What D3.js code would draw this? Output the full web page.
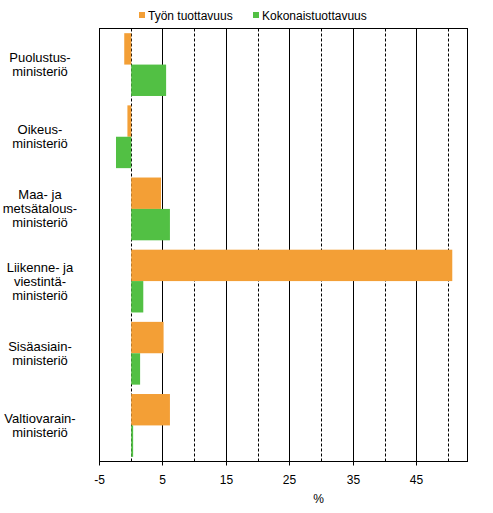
<!DOCTYPE html>
<html>
<head>
<meta charset="utf-8">
<script src="https://cdn.jsdelivr.net/npm/d3@7"></script>
<style>
  body { margin: 0; background: #fff; }
  text { font-family: "Liberation Sans", Arial, sans-serif; font-size: 12px; fill: #000; }
</style>
</head>
<body>
<div id="chart"></div>
<script>
// Ministries (label lines) and values in %
const categories = [
    ['Puolustus-', 'ministeriö'],
    ['Oikeus-', 'ministeriö'],
    ['Maa- ja', 'metsätalous-', 'ministeriö'],
    ['Liikenne- ja', 'viestintä-', 'ministeriö'],
    ['Sisäasiain-', 'ministeriö'],
    ['Valtiovarain-', 'ministeriö']
];
const seriesNames = ['Työn tuottavuus', 'Kokonaistuottavuus'];
const tyonTuottavuus = [-1.1, -0.6, 4.7, 50.6, 5.1, 6.1];
const kokonaistuottavuus = [5.5, -2.4, 6.1, 1.9, 1.4, 0.3];
const majorTicks = [-5, 5, 15, 25, 35, 45];
const minorTicks = [0, 10, 20, 30, 40, 50];
const colors = ['#f39f36', '#52c044'];

const width = 493, height = 513;
const margin = { top: 28.5, right: 26, bottom: 51.5, left: 99 };
const innerW = width - margin.left - margin.right;
const innerH = height - margin.top - margin.bottom;

const svg = d3.select('#chart').append('svg')
    .attr('width', width)
    .attr('height', height);

const g = svg.append('g')
    .attr('transform', `translate(${margin.left},${margin.top})`);

const x = d3.scaleLinear().domain([-5, 53]).range([0, innerW]);
const px = d => Math.round(x(d)) + 0.5; // crisp 1px lines
const y = d3.scaleBand()
    .domain(d3.range(categories.length))
    .range([0, innerH])
    .paddingInner(0.13)
    .paddingOuter(0.065);
const ySub = d3.scaleBand().domain([0, 1]).range([0, y.bandwidth()]);

// gridlines: solid at the major ticks, dashed in between
g.selectAll('.grid-major')
    .data(majorTicks)
    .join('line')
    .attr('x1', px)
    .attr('x2', px)
    .attr('y1', 0)
    .attr('y2', innerH)
    .attr('stroke', '#000');

g.selectAll('.grid-minor')
    .data(minorTicks)
    .join('line')
    .attr('x1', px)
    .attr('x2', px)
    .attr('y1', 0)
    .attr('y2', innerH)
    .attr('stroke', '#000')
    .attr('stroke-dasharray', '3,2');

// bars
const rows = categories.map((c, i) => [tyonTuottavuus[i], kokonaistuottavuus[i]]);
rows.forEach((vals, i) => {
    g.selectAll(`.bar-${i}`)
        .data(vals)
        .join('rect')
        .attr('x', d => x(Math.min(0, d)) + 0.5)
        .attr('y', (d, j) => y(i) + ySub(j))
        .attr('width', d => Math.abs(x(d) - x(0)))
        .attr('height', ySub.bandwidth())
        .attr('fill', (d, j) => colors[j]);
});

// plot frame
g.append('rect')
    .attr('x', 0.5)
    .attr('y', 0)
    .attr('width', Math.round(innerW))
    .attr('height', innerH)
    .attr('fill', 'none')
    .attr('stroke', '#000');

// x axis
const xAxis = d3.axisBottom(x)
    .tickValues(majorTicks)
    .tickSize(4)
    .tickPadding(10)
    .tickFormat(d => String(d));
const ax = g.append('g')
    .attr('transform', `translate(0,${innerH})`)
    .call(xAxis);
ax.select('.domain').remove();
ax.selectAll('.tick').attr('transform', d => `translate(${px(d)},0)`);
ax.selectAll('.tick line').attr('stroke', '#000');
ax.selectAll('text').style('font-family', '"Liberation Sans", Arial, sans-serif').style('font-size', '12px');

svg.append('text')
    .attr('x', margin.left + x(29.6))
    .attr('y', 503)
    .attr('text-anchor', 'middle')
    .text('%');

// category labels
categories.forEach((lines, i) => {
    const cy = margin.top + y(i) + y.bandwidth() / 2;
    const lh = 14;
    const t = svg.append('text')
        .attr('text-anchor', 'middle')
        .style('font-size', '13px')
        .attr('x', 40)
        .attr('y', cy - (lines.length - 1) * lh / 2 + 4.5);
    lines.forEach((l, k) => {
        t.append('tspan')
            .attr('x', 40)
            .attr('dy', k === 0 ? 0 : lh)
            .text(l);
    });
});

// legend
const legendX = [139, 253];
seriesNames.forEach((name, i) => {
    svg.append('rect')
        .attr('x', legendX[i])
        .attr('y', 12)
        .attr('width', 6)
        .attr('height', 6)
        .attr('fill', colors[i]);
    svg.append('text')
        .attr('x', legendX[i] + 9)
        .attr('y', 19.5)
        .text(name);
});
</script>
</body>
</html>
